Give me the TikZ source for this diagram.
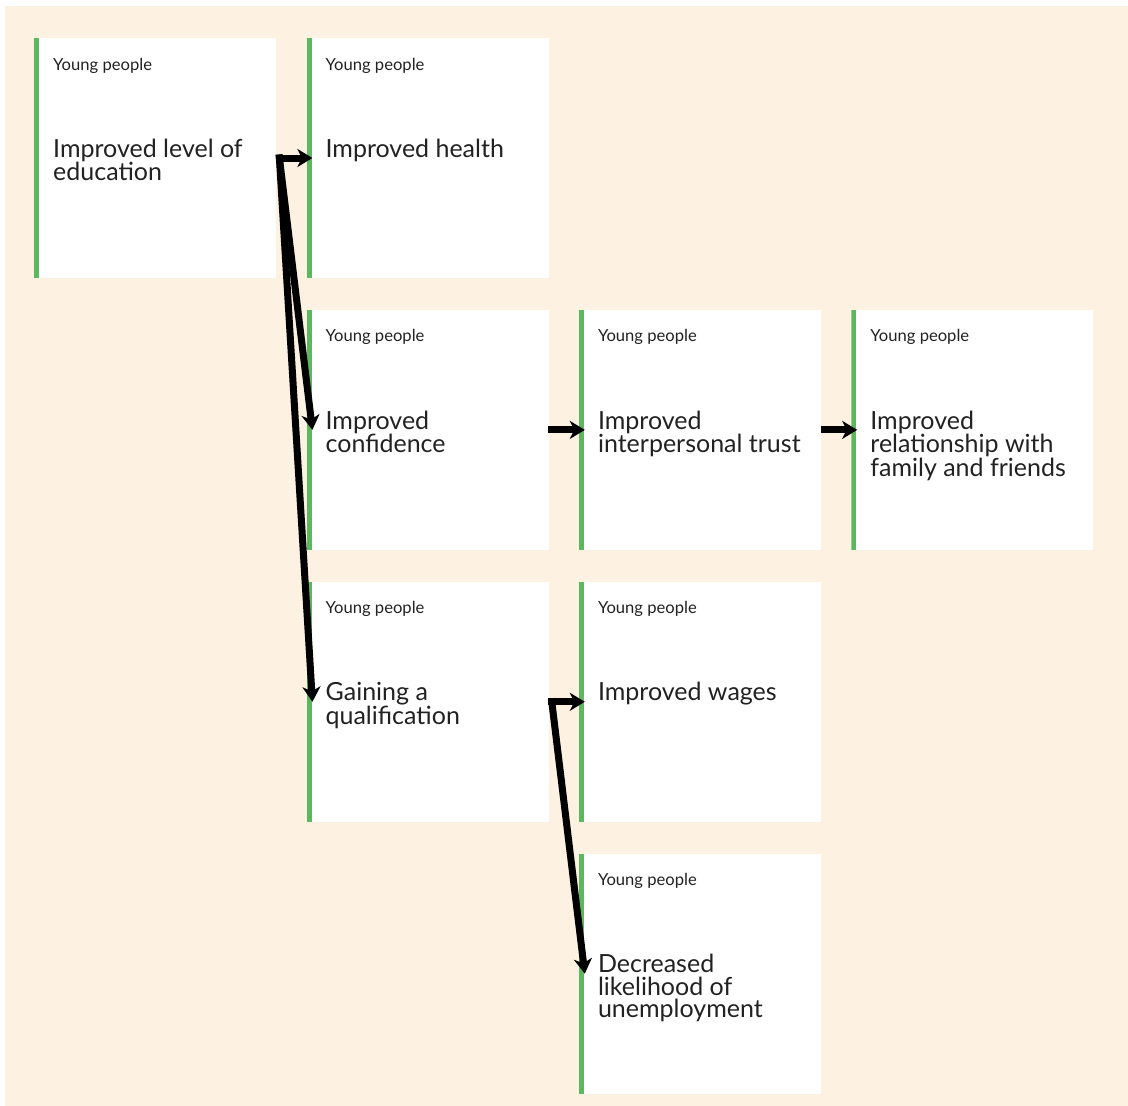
\documentclass[tikz,border=0pt]{standalone}
\usepackage{fontspec}
\setmainfont{Lato}
\usetikzlibrary{positioning,arrows.meta}
\definecolor{cream}{RGB}{253,241,226}
\definecolor{bargreen}{RGB}{92,184,92}
\definecolor{ink}{RGB}{34,34,34}
\tikzset{node distance=31.5pt and 30pt,
	outcome/.style={fill=white, minimum width=242pt, minimum height=240pt, inner sep=0pt,
		path picture={\fill[bargreen] (path picture bounding box.north west) rectangle ([xshift=5pt]path picture bounding box.south west);}},
	who/.style={anchor=base west, inner sep=0pt, text=ink, font=\fontsize{16.6}{18}\selectfont},
	what/.style={anchor=north west, inner sep=0pt, align=left, text=ink, font=\fontsize{25}{22.5}\selectfont},
	link/.style={line width=7pt, line cap=rect, -{Stealth[length=15pt,width=18pt,inset=4.5pt]}}}

\newcommand{\outcometext}[2]{%
	\node[who] (#1-who) at ([xshift=19pt,yshift=-32pt]#1.north west) {Young people};
	\node[what] (#1-what) at ([xshift=19pt,yshift=-100.5pt]#1.north west) {#2};
	\coordinate (#1-in) at ([xshift=6pt,yshift=-120pt]#1.north west);
	\coordinate (#1-out) at ([xshift=3pt,yshift=-120pt]#1.north east);}

\begin{document}
\begin{tikzpicture}
				\useasboundingbox[fill=white] (0,0) rectangle (1128pt,-1106pt);
				\fill[cream] (5pt,-6pt) rectangle (1128pt,-1106pt);

				\node[outcome,anchor=north west] (edu) at (34pt,-38pt) {};
				\node[outcome] (health) [right=of edu] {};
				\node[outcome] (conf) [below=of health] {};
				\node[outcome] (trust) [right=of conf] {};
				\node[outcome] (rel) [right=of trust] {};
				\node[outcome] (qual) [below=of conf] {};
				\node[outcome] (wages) [right=of qual] {};
				\node[outcome] (unemp) [below=of wages] {};

				\outcometext{edu}{Improved level of\\education}
				\outcometext{health}{Improved health}
				\outcometext{conf}{Improved\\confidence}
				\outcometext{trust}{Improved\\interpersonal trust}
				\outcometext{rel}{Improved\\relationship with\\family and friends}
				\outcometext{qual}{Gaining a\\qualification}
				\outcometext{wages}{Improved wages}
				\outcometext{unemp}{Decreased\\likelihood of\\unemployment}

				\draw[link] (edu-out) -- (health-in);
				\draw[link] (edu-out) -- (conf-in);
				\draw[link] (edu-out) -- (qual-in);
				\draw[link] (conf-out) -- (trust-in);
				\draw[link] (trust-out) -- (rel-in);
				\draw[link] (qual-out) -- (wages-in);
				\draw[link] (qual-out) -- (unemp-in);
			\end{tikzpicture}
\end{document}
